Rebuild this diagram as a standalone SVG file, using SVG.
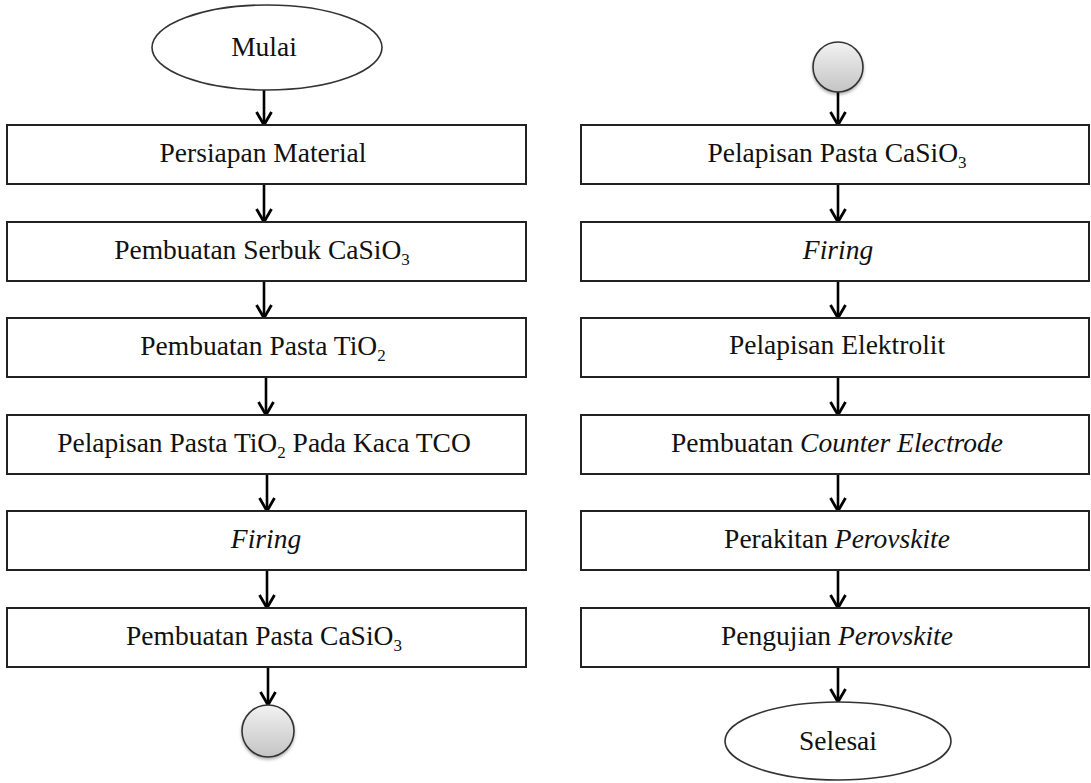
<svg xmlns="http://www.w3.org/2000/svg" width="1091" height="783" viewBox="0 0 1091 783">
<style>
.box{fill:#fff;stroke:#222;stroke-width:2}
.term{fill:#fff;stroke:#333;stroke-width:1.6}
.conn{fill:url(#cg);stroke:#333;stroke-width:1.6}
.t{font-family:'Liberation Serif','Times New Roman',serif;font-size:27.5px;fill:#111;text-anchor:middle}
.i{font-style:italic}
.sub{font-size:17px}
.edge{fill:none;stroke:#000;stroke-width:2.6}
</style>
<defs>
<linearGradient id="cg" x1="0" y1="0" x2="0" y2="1">
<stop offset="0" stop-color="#f2f2f2"/>
<stop offset="1" stop-color="#c4c4c4"/>
</linearGradient>
<filter id="sh" x="-30%" y="-30%" width="160%" height="170%">
<feDropShadow dx="0" dy="2" stdDeviation="1.5" flood-color="#000" flood-opacity="0.3"/>
</filter>
<marker id="ah" viewBox="0 0 18 18" refX="15" refY="9" markerWidth="18" markerHeight="18" orient="auto" markerUnits="userSpaceOnUse">
<path d="M2,1.5 L15,9 L2,16.5" fill="none" stroke="#000" stroke-width="2.8"/>
</marker>
</defs>

<g id="connectors">
<path class="edge" marker-end="url(#ah)" d="M264,90 V125"/>
<path class="edge" marker-end="url(#ah)" d="M264,184 V222"/>
<path class="edge" marker-end="url(#ah)" d="M264,281 V318"/>
<path class="edge" marker-end="url(#ah)" d="M266,377 V415"/>
<path class="edge" marker-end="url(#ah)" d="M267,474 V511"/>
<path class="edge" marker-end="url(#ah)" d="M267,570 V608"/>
<path class="edge" marker-end="url(#ah)" d="M268,667 V705"/>
<path class="edge" marker-end="url(#ah)" d="M838,92 V125"/>
<path class="edge" marker-end="url(#ah)" d="M838,184 V222"/>
<path class="edge" marker-end="url(#ah)" d="M838,281 V318"/>
<path class="edge" marker-end="url(#ah)" d="M838,377 V415"/>
<path class="edge" marker-end="url(#ah)" d="M838,474 V511"/>
<path class="edge" marker-end="url(#ah)" d="M838,570 V608"/>
<path class="edge" marker-end="url(#ah)" d="M838,667 V702"/>
</g>

<g id="mulai">
<ellipse class="term" cx="267" cy="47.5" rx="115" ry="42.5"/>
<text class="t" x="264" y="56">Mulai</text>
</g>
<g id="persiapan-material">
<rect class="box" x="7" y="125" width="519" height="59"/>
<text class="t" x="263" y="162">Persiapan Material</text>
</g>
<g id="serbuk-casio3">
<rect class="box" x="7" y="222" width="519" height="59"/>
<text class="t" x="262" y="259">Pembuatan Serbuk CaSiO<tspan class="sub" dy="6">3</tspan></text>
</g>
<g id="pasta-tio2">
<rect class="box" x="7" y="318" width="519" height="59"/>
<text class="t" x="263" y="355">Pembuatan Pasta TiO<tspan class="sub" dy="6">2</tspan></text>
</g>
<g id="pelapisan-tio2">
<rect class="box" x="7" y="415" width="519" height="59"/>
<text class="t" x="264" y="452">Pelapisan Pasta TiO<tspan class="sub" dy="6">2</tspan><tspan dy="-6"> Pada Kaca TCO</tspan></text>
</g>
<g id="firing-1">
<rect class="box" x="7" y="511" width="519" height="59"/>
<text class="t i" x="266" y="548">Firing</text>
</g>
<g id="pasta-casio3">
<rect class="box" x="7" y="608" width="519" height="59"/>
<text class="t" x="264" y="645">Pembuatan Pasta CaSiO<tspan class="sub" dy="6">3</tspan></text>
</g>
<g id="connector-a-out">
<circle class="conn" filter="url(#sh)" cx="268" cy="731" r="26"/>
</g>

<g id="connector-a-in">
<circle class="conn" filter="url(#sh)" cx="838" cy="67" r="25"/>
</g>
<g id="pelapisan-casio3">
<rect class="box" x="581" y="125" width="508" height="59"/>
<text class="t" x="837" y="162">Pelapisan Pasta CaSiO<tspan class="sub" dy="6">3</tspan></text>
</g>
<g id="firing-2">
<rect class="box" x="581" y="222" width="508" height="59"/>
<text class="t i" x="838" y="259">Firing</text>
</g>
<g id="pelapisan-elektrolit">
<rect class="box" x="581" y="318" width="508" height="59"/>
<text class="t" x="837" y="354">Pelapisan Elektrolit</text>
</g>
<g id="counter-electrode">
<rect class="box" x="581" y="415" width="508" height="59"/>
<text class="t" x="837" y="452">Pembuatan <tspan class="i">Counter Electrode</tspan></text>
</g>
<g id="perakitan">
<rect class="box" x="581" y="511" width="508" height="59"/>
<text class="t" x="837" y="548">Perakitan <tspan class="i">Perovskite</tspan></text>
</g>
<g id="pengujian">
<rect class="box" x="581" y="608" width="508" height="59"/>
<text class="t" x="837" y="645">Pengujian <tspan class="i">Perovskite</tspan></text>
</g>
<g id="selesai">
<ellipse class="term" cx="838" cy="741" rx="113" ry="39"/>
<text class="t" x="838" y="750">Selesai</text>
</g>
</svg>
